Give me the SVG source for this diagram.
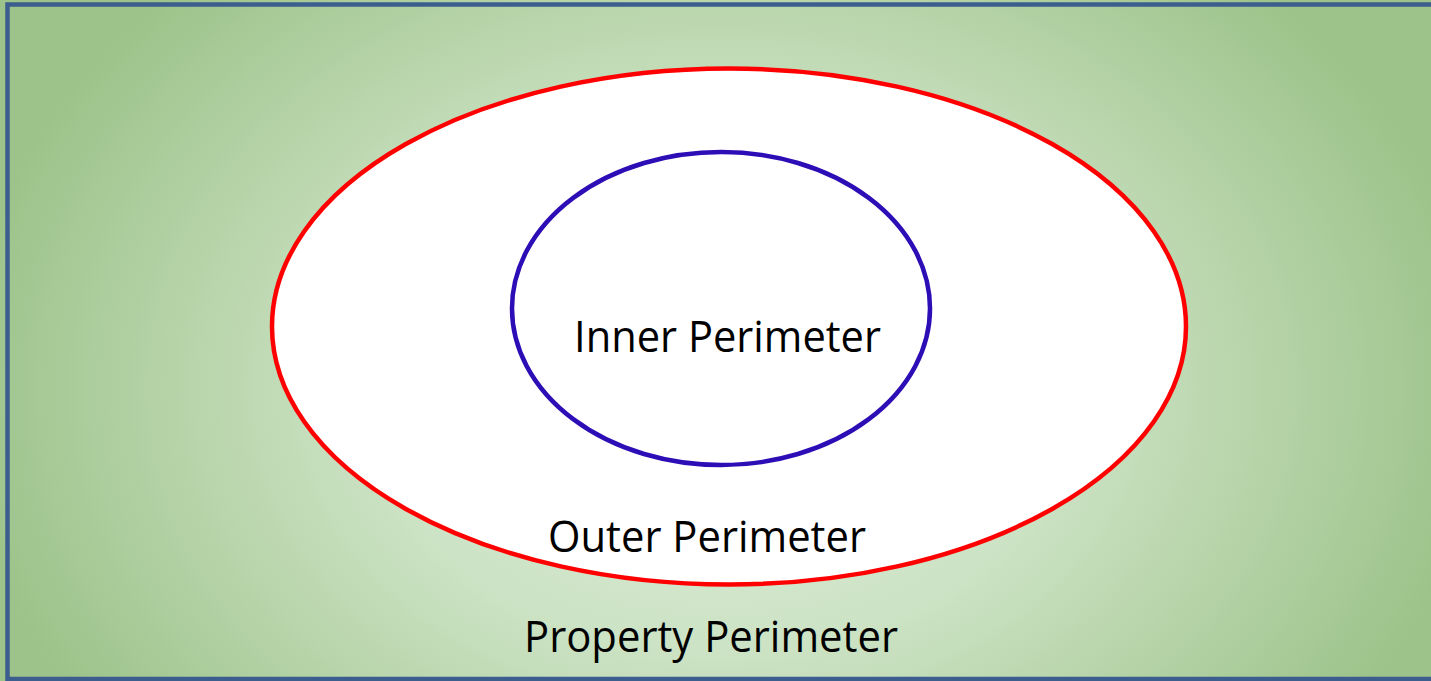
<svg xmlns="http://www.w3.org/2000/svg" width="1431" height="681" viewBox="0 0 1431 681">
<defs>
<radialGradient id="bg" gradientUnits="userSpaceOnUse" cx="720" cy="390" r="760" gradientTransform="translate(720 390) scale(1 0.75) translate(-720 -390)">
<stop offset="0" stop-color="#DDEDD8"/>
<stop offset="0.45" stop-color="#CDE3C5"/>
<stop offset="1" stop-color="#9DC38A"/>
</radialGradient>
<style>
.lbl{font-family:"Open Sans","Noto Sans",sans-serif;font-size:43px;fill:#000}
</style>
</defs>
<rect x="0" y="0" width="1431" height="681" fill="url(#bg)"/>
<g id="property">
<rect x="7.5" y="4.5" width="1440" height="674.5" fill="none" stroke="#3B5E8E" stroke-width="4.5"/>
<text class="lbl" x="524" y="652" textLength="374" lengthAdjust="spacingAndGlyphs">Property Perimeter</text>
</g>
<g id="outer">
<ellipse cx="729" cy="326.5" rx="457" ry="258" fill="#FFFFFF" stroke="#FF0000" stroke-width="4.5"/>
<text class="lbl" x="548" y="552" textLength="318" lengthAdjust="spacingAndGlyphs">Outer Perimeter</text>
</g>
<g id="inner">
<ellipse cx="721" cy="308.5" rx="209" ry="156.5" fill="#FFFFFF" stroke="#2D0DB5" stroke-width="4.5"/>
<text class="lbl" x="574" y="352" textLength="307" lengthAdjust="spacingAndGlyphs">Inner Perimeter</text>
</g>
<g id="connectors"/>
</svg>
